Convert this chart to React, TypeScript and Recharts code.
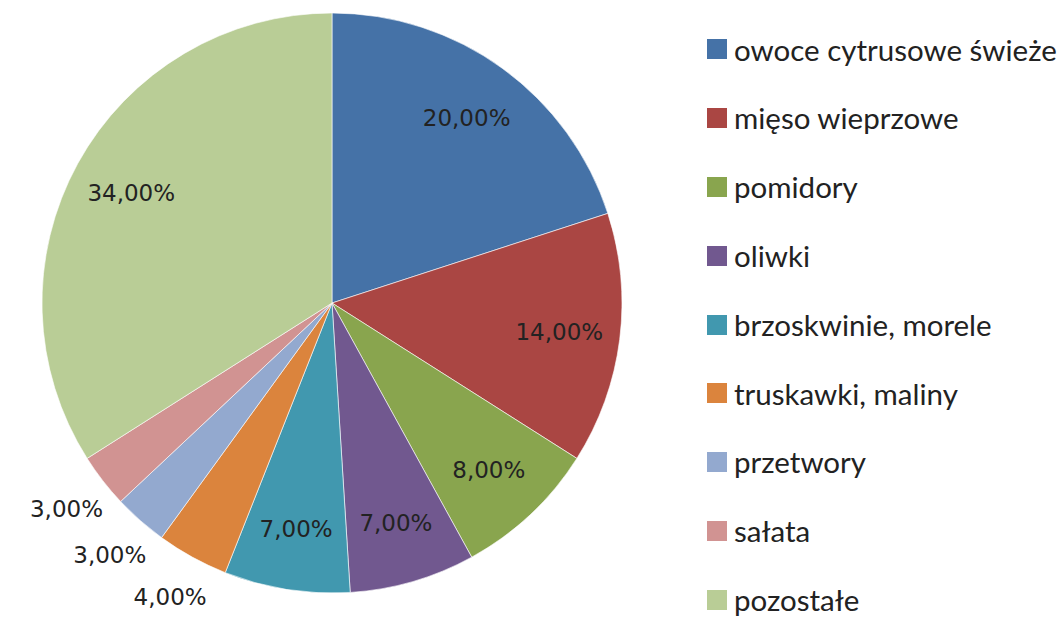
import React from 'react';
import { PieChart, Pie, Cell, Legend } from 'recharts';

const categories = [
  'owoce cytrusowe świeże',
  'mięso wieprzowe',
  'pomidory',
  'oliwki',
  'brzoskwinie, morele',
  'truskawki, maliny',
  'przetwory',
  'sałata',
  'pozostałe',
];
const shares = [20, 14, 8, 7, 7, 4, 3, 3, 34];
const colors = ['#4572A7', '#AA4643', '#89A54E', '#71588F', '#4198AF', '#DB843D', '#93A9CF', '#D19392', '#B9CD96'];

const data = categories.map((name, i) => ({ name, value: shares[i] }));

const RAD = Math.PI / 180;

const renderLabel = (props: any) => {
  const { cx, cy, midAngle, outerRadius, value } = props;
  const outside = value < 5;
  const r = outside ? outerRadius + 46 : outerRadius * 0.79;
  const x = cx + r * Math.cos(-midAngle * RAD);
  const y = cy + r * Math.sin(-midAngle * RAD);
  return (
    <text
      x={x}
      y={y}
      textAnchor="middle"
      dominantBaseline="central"
      fontFamily="'DejaVu Sans', Verdana, sans-serif"
      fontSize={23}
      fill="#222"
    >
      {value.toFixed(2).replace('.', ',') + '%'}
    </text>
  );
};

const renderLegend = () => (
  <div style={{ fontFamily: "Lato, 'Open Sans', sans-serif", fontSize: 29.5, color: '#222' }}>
    {categories.map((c, i) => (
      <div key={c} style={{ height: 68.8, display: 'flex', alignItems: 'center' }}>
        <span style={{ display: 'inline-block', width: 20, height: 20, background: colors[i], marginRight: 7, flexShrink: 0 }} />
        <span style={{ lineHeight: 1, whiteSpace: 'nowrap' }}>{c}</span>
      </div>
    ))}
  </div>
);

export default function App() {
  return (
    <div style={{ position: 'absolute', left: 0, top: 0, width: 1064, height: 618, background: '#fff' }}>
      <PieChart width={1064} height={618} margin={{ top: 0, right: 0, bottom: 0, left: 0 }}>
        <Pie
          data={data}
          dataKey="value"
          nameKey="name"
          cx={332}
          cy={303}
          outerRadius={290}
          startAngle={90}
          endAngle={-270}
          stroke="#ffffff"
          strokeWidth={0.6}
          label={renderLabel}
          labelLine={false}
          isAnimationActive={false}
        >
          {data.map((d, i) => (
            <Cell key={d.name} fill={colors[i]} />
          ))}
        </Pie>
        <Legend
          content={renderLegend}
          layout="vertical"
          wrapperStyle={{ position: 'absolute', left: 707, top: 15, width: 360 }}
        />
      </PieChart>
    </div>
  );
}
